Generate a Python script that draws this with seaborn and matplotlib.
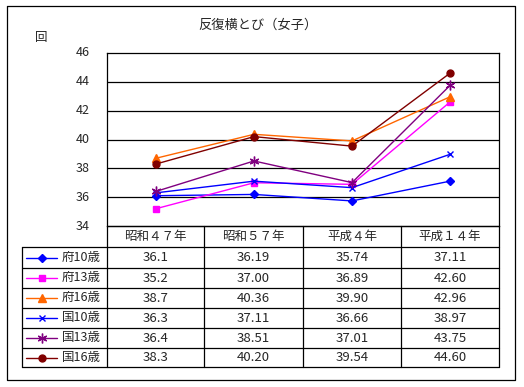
import pandas as pd
import matplotlib
matplotlib.use("Agg")
import matplotlib.pyplot as plt
import seaborn as sns

years = ["昭和４７年", "昭和５７年", "平成４年", "平成１４年"]
series_names = ["府10歳", "府13歳", "府16歳", "国10歳", "国13歳", "国16歳"]
fu10 = [36.1, 36.19, 35.74, 37.11]
fu13 = [35.2, 37.00, 36.89, 42.60]
fu16 = [38.7, 40.36, 39.90, 42.96]
koku10 = [36.3, 37.11, 36.66, 38.97]
koku13 = [36.4, 38.51, 37.01, 43.75]
koku16 = [38.3, 40.20, 39.54, 44.60]
table_text = [
    ["36.1", "36.19", "35.74", "37.11"],
    ["35.2", "37.00", "36.89", "42.60"],
    ["38.7", "40.36", "39.90", "42.96"],
    ["36.3", "37.11", "36.66", "38.97"],
    ["36.4", "38.51", "37.01", "43.75"],
    ["38.3", "40.20", "39.54", "44.60"],
]
y_ticks = [34, 36, 38, 40, 42, 44, 46]

colors = {"府10歳": "#0000FF", "府13歳": "#FF00FF", "府16歳": "#FF6600",
          "国10歳": "#0000FF", "国13歳": "#800080", "国16歳": "#800000"}
marks = {"府10歳": "D", "府13歳": "s", "府16歳": "^",
         "国10歳": "x", "国13歳": (6, 2, 0), "国16歳": "o"}
sizes = {"府10歳": 4.5, "府13歳": 5, "府16歳": 5.5, "国10歳": 5, "国13歳": 7, "国16歳": 5}

sns.set_theme(style="white")
plt.rcParams["font.family"] = ["Noto Sans CJK JP", "DejaVu Sans"]

rows = []
for name, vals in zip(series_names, [fu10, fu13, fu16, koku10, koku13, koku16]):
    for i, v in enumerate(vals):
        rows.append({"series": name, "pos": i, "value": v})
df = pd.DataFrame(rows)

W, H = 524, 387
fig = plt.figure(figsize=(W / 100, H / 100), dpi=100)
fig.patch.set_facecolor("white")

# pixel geometry
px_left, px_right, px_top, px_bot = 107, 499, 53, 226
ax = fig.add_axes([px_left / W, 1 - px_bot / H, (px_right - px_left) / W, (px_bot - px_top) / H])
for y in y_ticks[1:-1]:
    ax.axhline(y, color="black", lw=0.9, zorder=1)
for name in series_names:
    sub = df[df["series"] == name]
    sns.lineplot(data=sub, x="pos", y="value", color=colors[name],
                 marker=marks[name], markersize=sizes[name],
                 markeredgecolor=colors[name], markerfacecolor=colors[name],
                 markeredgewidth=1, linewidth=1, ax=ax, sort=False, zorder=3)
ax.set_xlim(-0.5, len(years) - 0.5)
ax.set_ylim(34, 46)
ax.set_xticks([])
ax.set_yticks([])
ax.set_xlabel("")
ax.set_ylabel("")
for s in ax.spines.values():
    s.set_color("black")
    s.set_linewidth(0.9)

# overlay axes in pixel coordinates for frame, labels and table
ov = fig.add_axes([0, 0, 1, 1], zorder=5)
ov.set_xlim(0, W)
ov.set_ylim(H, 0)
ov.axis("off")
ov.patch.set_alpha(0)

lk = dict(color="black", lw=0.9)
ov.plot([7, 515, 515, 7, 7], [6, 6, 380, 380, 6], **lk)
ov.text(258, 25, "反復横とび（女子）", ha="center", va="center", fontsize=9.5)
ov.text(41, 38, "回", ha="center", va="center", fontsize=9)
for t in y_ticks:
    yy = px_bot - (px_bot - px_top) * (t - 34) / 12
    ov.text(83, yy, str(t), ha="center", va="center", fontsize=9)

# table
col_x = [107, 204, 303, 401, 499]
row_y = [226, 247, 268, 288, 308, 328, 348, 367]
leg_left = 22
for y in row_y:
    x0 = px_left if y == row_y[0] else leg_left
    ov.plot([x0, px_right], [y, y], **lk)
ov.plot([leg_left, leg_left], [row_y[1], row_y[-1]], **lk)
for x in col_x:
    ov.plot([x, x], [row_y[0], row_y[-1]], **lk)
for j, yr in enumerate(years):
    ov.text((col_x[j] + col_x[j + 1]) / 2, (row_y[0] + row_y[1]) / 2, yr,
            ha="center", va="center", fontsize=9)
for i, name in enumerate(series_names):
    yc = (row_y[i + 1] + row_y[i + 2]) / 2
    ov.plot([26, 57], [yc, yc], color=colors[name], lw=1)
    ov.plot([41.5], [yc], marker=marks[name], color=colors[name],
            markersize=sizes[name], mec=colors[name], mew=1)
    ov.text(62, yc, name, ha="left", va="center", fontsize=9)
    for j in range(len(years)):
        ov.text((col_x[j] + col_x[j + 1]) / 2, yc, table_text[i][j],
                ha="center", va="center", fontsize=9.5)

fig.savefig("out.png", dpi=100, facecolor="white")
